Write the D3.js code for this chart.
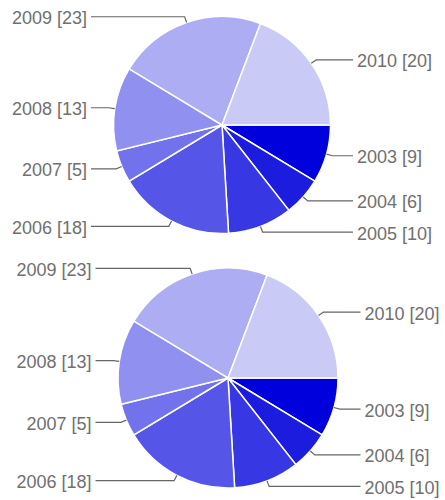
<!DOCTYPE html>
<html>
<head>
<meta charset="utf-8">
<script src="https://cdn.jsdelivr.net/npm/d3@7"></script>
<style>
  body { margin: 0; background: #fff; }
  text { font-family: "Liberation Sans", Arial, sans-serif; }
</style>
</head>
<body>
<div id="chart"></div>
<script>
// data
var years = ["2003", "2004", "2005", "2006", "2007", "2008", "2009", "2010"];
var counts = [9, 6, 10, 18, 5, 13, 23, 20];
var colors = ["#0000dc", "#1c1cdf", "#3737e3", "#5555e8", "#7272ec", "#9090f0", "#adadf4", "#cacaf7"];

var width = 445, height = 500;

var svg = d3.select("#chart")
  .append("svg")
  .attr("width", width)
  .attr("height", height);

var rows = years.map(function (y, i) {
  return { year: y, value: counts[i], color: colors[i] };
});

// start at 3 o'clock, go clockwise
var pie = d3.pie()
  .sort(null)
  .value(function (d) { return d.value; })
  .startAngle(Math.PI / 2)
  .endAngle(Math.PI / 2 + 2 * Math.PI);

drawPie(222, 125, 108.5);
drawPie(228, 378, 110);

function drawPie(cx, cy, r) {
  var g = svg.append("g")
    .attr("transform", "translate(" + cx + "," + cy + ")");

  var arc = d3.arc().innerRadius(0).outerRadius(r);
  var arcs = pie(rows);

  g.selectAll("path.slice")
    .data(arcs)
    .enter()
    .append("path")
    .attr("class", "slice")
    .attr("d", arc)
    .attr("fill", function (d) { return d.data.color; })
    .attr("stroke", "#fff")
    .attr("stroke-width", 1.5);

  var labelX = r + 26.5;

  // leader lines
  g.selectAll("path.leader")
    .data(arcs)
    .enter()
    .append("path")
    .attr("class", "leader")
    .attr("fill", "none")
    .attr("stroke", "#666")
    .attr("stroke-width", 1.2)
    .attr("d", function (d) {
      var a = (d.startAngle + d.endAngle) / 2;
      var sx = Math.sin(a), sy = -Math.cos(a);
      var side = sx >= 0 ? 1 : -1;
      var ex = (r + 6) * sx, ey = (r + 6) * sy;
      return "M" + (r * sx) + "," + (r * sy) +
        "L" + ex + "," + ey +
        "L" + side * (labelX - 4) + "," + ey;
    });

  g.selectAll("text.label")
    .data(arcs)
    .enter()
    .append("text")
    .attr("class", "label")
    .attr("x", function (d) {
      var a = (d.startAngle + d.endAngle) / 2;
      return Math.sin(a) >= 0 ? labelX : -labelX;
    })
    .attr("y", function (d) {
      var a = (d.startAngle + d.endAngle) / 2;
      return -(r + 6) * Math.cos(a) + 1.5;
    })
    .attr("dominant-baseline", "central")
    .attr("text-anchor", function (d) {
      var a = (d.startAngle + d.endAngle) / 2;
      return Math.sin(a) >= 0 ? "start" : "end";
    })
    .attr("font-size", 18)
    .attr("fill", "#707070")
    .text(function (d) { return d.data.year + " [" + d.data.value + "]"; });
}
</script>
</body>
</html>
